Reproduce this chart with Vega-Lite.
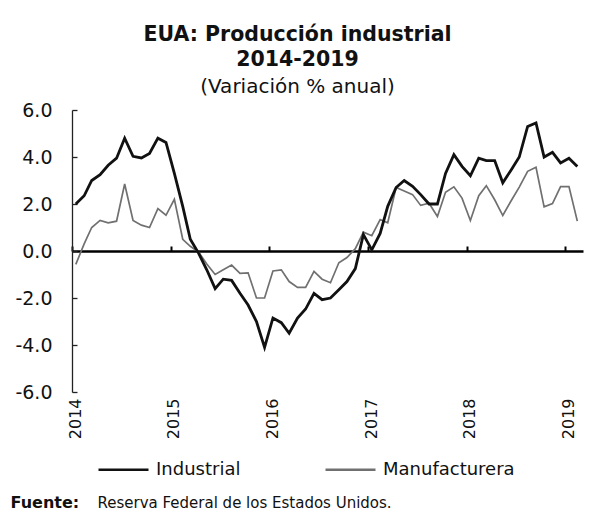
{
  "$schema": "https://vega.github.io/schema/vega-lite/v6.json",
  "autosize": {"type": "none"},
  "width": 511,
  "height": 282,
  "padding": {"left": 72, "top": 110, "right": 7, "bottom": 119},
  "background": "white",
  "title": {
    "text": ["EUA: Producción industrial", "2014-2019"],
    "subtitle": "(Variación % anual)",
    "anchor": "middle",
    "frame": "group",
    "dx": -30,
    "offset": 4,
    "font": "DejaVu Sans",
    "fontSize": 20.5,
    "fontWeight": "bold",
    "lineHeight": 25,
    "color": "#111",
    "subtitleFont": "DejaVu Sans",
    "subtitleFontSize": 20,
    "subtitleColor": "#111",
    "subtitlePadding": 7
  },
  "data": {
    "values": [
      {"fecha": "2014-01-15", "Industrial": 2.0, "Manufacturera": -0.57},
      {"fecha": "2014-02-15", "Industrial": 2.35, "Manufacturera": 0.3},
      {"fecha": "2014-03-15", "Industrial": 3.0, "Manufacturera": 1.0},
      {"fecha": "2014-04-15", "Industrial": 3.25, "Manufacturera": 1.3},
      {"fecha": "2014-05-15", "Industrial": 3.65, "Manufacturera": 1.2},
      {"fecha": "2014-06-15", "Industrial": 3.95, "Manufacturera": 1.27},
      {"fecha": "2014-07-15", "Industrial": 4.8, "Manufacturera": 2.85},
      {"fecha": "2014-08-15", "Industrial": 4.03, "Manufacturera": 1.3},
      {"fecha": "2014-09-15", "Industrial": 3.96, "Manufacturera": 1.1},
      {"fecha": "2014-10-15", "Industrial": 4.15, "Manufacturera": 1.0},
      {"fecha": "2014-11-15", "Industrial": 4.8, "Manufacturera": 1.8},
      {"fecha": "2014-12-15", "Industrial": 4.62, "Manufacturera": 1.52},
      {"fecha": "2015-01-15", "Industrial": 3.3, "Manufacturera": 2.2},
      {"fecha": "2015-02-15", "Industrial": 1.9, "Manufacturera": 0.5},
      {"fecha": "2015-03-15", "Industrial": 0.5, "Manufacturera": 0.2},
      {"fecha": "2015-04-15", "Industrial": -0.1, "Manufacturera": -0.05},
      {"fecha": "2015-05-15", "Industrial": -0.8, "Manufacturera": -0.55},
      {"fecha": "2015-06-15", "Industrial": -1.6, "Manufacturera": -1.0},
      {"fecha": "2015-07-15", "Industrial": -1.2, "Manufacturera": -0.8},
      {"fecha": "2015-08-15", "Industrial": -1.25, "Manufacturera": -0.6},
      {"fecha": "2015-09-15", "Industrial": -1.8, "Manufacturera": -0.95},
      {"fecha": "2015-10-15", "Industrial": -2.3, "Manufacturera": -0.93},
      {"fecha": "2015-11-15", "Industrial": -3.0, "Manufacturera": -2.0},
      {"fecha": "2015-12-15", "Industrial": -4.1, "Manufacturera": -2.0},
      {"fecha": "2016-01-15", "Industrial": -2.85, "Manufacturera": -0.85},
      {"fecha": "2016-02-15", "Industrial": -3.05, "Manufacturera": -0.8},
      {"fecha": "2016-03-15", "Industrial": -3.5, "Manufacturera": -1.3},
      {"fecha": "2016-04-15", "Industrial": -2.85, "Manufacturera": -1.55},
      {"fecha": "2016-05-15", "Industrial": -2.47, "Manufacturera": -1.55},
      {"fecha": "2016-06-15", "Industrial": -1.8, "Manufacturera": -0.87},
      {"fecha": "2016-07-15", "Industrial": -2.07, "Manufacturera": -1.2},
      {"fecha": "2016-08-15", "Industrial": -2.0, "Manufacturera": -1.35},
      {"fecha": "2016-09-15", "Industrial": -1.65, "Manufacturera": -0.5},
      {"fecha": "2016-10-15", "Industrial": -1.3, "Manufacturera": -0.28},
      {"fecha": "2016-11-15", "Industrial": -0.75, "Manufacturera": 0.1},
      {"fecha": "2016-12-15", "Industrial": 0.7, "Manufacturera": 0.8},
      {"fecha": "2017-01-15", "Industrial": 0.05, "Manufacturera": 0.65},
      {"fecha": "2017-02-15", "Industrial": 0.75, "Manufacturera": 1.34},
      {"fecha": "2017-03-15", "Industrial": 1.9, "Manufacturera": 1.2},
      {"fecha": "2017-04-15", "Industrial": 2.7, "Manufacturera": 2.7},
      {"fecha": "2017-05-15", "Industrial": 3.0, "Manufacturera": 2.55},
      {"fecha": "2017-06-15", "Industrial": 2.75, "Manufacturera": 2.4},
      {"fecha": "2017-07-15", "Industrial": 2.4, "Manufacturera": 1.94},
      {"fecha": "2017-08-15", "Industrial": 2.0, "Manufacturera": 2.03},
      {"fecha": "2017-09-15", "Industrial": 2.0, "Manufacturera": 1.47},
      {"fecha": "2017-10-15", "Industrial": 3.3, "Manufacturera": 2.5},
      {"fecha": "2017-11-15", "Industrial": 4.1, "Manufacturera": 2.73},
      {"fecha": "2017-12-15", "Industrial": 3.6, "Manufacturera": 2.25},
      {"fecha": "2018-01-15", "Industrial": 3.2, "Manufacturera": 1.3},
      {"fecha": "2018-02-15", "Industrial": 3.95, "Manufacturera": 2.35},
      {"fecha": "2018-03-15", "Industrial": 3.85, "Manufacturera": 2.78},
      {"fecha": "2018-04-15", "Industrial": 3.85, "Manufacturera": 2.18},
      {"fecha": "2018-05-15", "Industrial": 2.9, "Manufacturera": 1.51},
      {"fecha": "2018-06-15", "Industrial": 3.45, "Manufacturera": 2.14},
      {"fecha": "2018-07-15", "Industrial": 4.0, "Manufacturera": 2.72},
      {"fecha": "2018-08-15", "Industrial": 5.3, "Manufacturera": 3.39},
      {"fecha": "2018-09-15", "Industrial": 5.45, "Manufacturera": 3.56},
      {"fecha": "2018-10-15", "Industrial": 4.0, "Manufacturera": 1.88},
      {"fecha": "2018-11-15", "Industrial": 4.2, "Manufacturera": 2.02},
      {"fecha": "2018-12-15", "Industrial": 3.75, "Manufacturera": 2.74},
      {"fecha": "2019-01-15", "Industrial": 3.95, "Manufacturera": 2.74},
      {"fecha": "2019-02-15", "Industrial": 3.6, "Manufacturera": 1.27}
    ]
  },
  "transform": [{"fold": ["Industrial", "Manufacturera"], "as": ["serie", "valor"]}],
  "encoding": {
    "y": {
      "field": "valor",
      "type": "quantitative",
      "scale": {"domain": [-6, 6], "nice": false, "zero": false},
      "axis": {
        "values": [-6, -4, -2, 0, 2, 4, 6],
        "labelExpr": "replace(format(datum.value, '.1f'), '−', '-')",
        "title": null,
        "grid": false,
        "domainColor": "#222",
        "domainWidth": 1.3,
        "tickColor": "#222",
        "tickWidth": 1.3,
        "tickSize": -5,
        "labelFont": "DejaVu Sans",
        "labelFontSize": 19,
        "labelColor": "#111",
        "labelPadding": 25
      }
    },
    "color": {
      "field": "serie",
      "type": "nominal",
      "scale": {"domain": ["Industrial", "Manufacturera"], "range": ["#111111", "#707070"]},
      "legend": {
        "orient": "none",
        "legendX": 25,
        "legendY": 333,
        "direction": "horizontal",
        "title": null,
        "symbolType": "stroke",
        "symbolSize": 2500,
        "symbolStrokeWidth": 2.5,
        "labelFont": "DejaVu Sans",
        "labelFontSize": 18,
        "labelColor": "#111",
        "labelOffset": 6,
        "columnPadding": 79,
        "padding": 0
      }
    }
  },
  "layer": [
    {
      "transform": [{"filter": "datum.serie === 'Manufacturera'"}],
      "mark": {"type": "line", "strokeWidth": 1.7},
      "encoding": {
        "x": {
          "field": "fecha",
          "type": "temporal",
          "scale": {"type": "utc", "domain": [{"year": 2014, "month": 1, "date": 1, "utc": true}, {"year": 2019, "month": 3, "date": 8, "utc": true}]},
          "axis": {
            "orient": "top",
            "offset": -141,
            "values": [
              {"year": 2014, "month": 1, "date": 1, "utc": true},
              {"year": 2015, "month": 1, "date": 1, "utc": true},
              {"year": 2016, "month": 1, "date": 1, "utc": true},
              {"year": 2017, "month": 1, "date": 1, "utc": true},
              {"year": 2018, "month": 1, "date": 1, "utc": true},
              {"year": 2019, "month": 1, "date": 1, "utc": true}
            ],
            "labels": false,
            "grid": false,
            "domain": true,
            "domainColor": "#000",
            "domainWidth": 2.5,
            "ticks": true,
            "tickSize": 5,
            "tickWidth": 2,
            "tickColor": "#000",
            "title": "Fuente:",
            "titleFont": "DejaVu Sans",
            "titleFontWeight": "bold",
            "titleFontSize": 16,
            "titleColor": "#111",
            "titleAlign": "left",
            "titleAnchor": "start",
            "titleBaseline": "alphabetic",
            "titleX": -62,
            "titleY": 256
          }
        }
      }
    },
    {
      "transform": [{"filter": "datum.serie === 'Industrial'"}],
      "mark": {"type": "line", "strokeWidth": 2.8},
      "encoding": {
        "x": {
          "field": "fecha",
          "type": "temporal",
          "scale": {"type": "utc", "domain": [{"year": 2014, "month": 1, "date": 1, "utc": true}, {"year": 2019, "month": 3, "date": 8, "utc": true}]},
          "axis": {
            "orient": "bottom",
            "values": [
              {"year": 2014, "month": 1, "date": 1, "utc": true},
              {"year": 2015, "month": 1, "date": 1, "utc": true},
              {"year": 2016, "month": 1, "date": 1, "utc": true},
              {"year": 2017, "month": 1, "date": 1, "utc": true},
              {"year": 2018, "month": 1, "date": 1, "utc": true},
              {"year": 2019, "month": 1, "date": 1, "utc": true}
            ],
            "format": "%Y",
            "formatType": "utc",
            "labelAngle": -90,
            "labelFont": "DejaVu Sans",
            "labelFontSize": 16,
            "labelColor": "#111",
            "labelPadding": 6,
            "labelOffset": 3,
            "domain": false,
            "ticks": false,
            "grid": false,
            "title": "Reserva Federal de los Estados Unidos.",
            "titleFont": "DejaVu Sans",
            "titleFontWeight": "normal",
            "titleFontSize": 15,
            "titleColor": "#111",
            "titleAlign": "left",
            "titleAnchor": "start",
            "titleBaseline": "alphabetic",
            "titleX": 25,
            "titleY": 115
          }
        }
      }
    }
  ],
  "resolve": {"axis": {"x": "independent"}},
  "config": {
    "view": {"stroke": null}
  }
}
